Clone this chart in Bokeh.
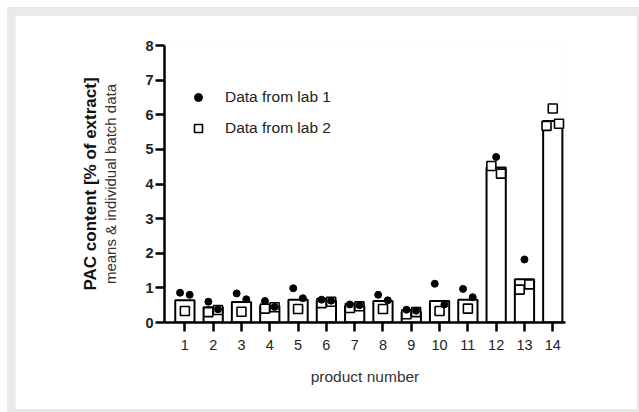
import numpy as np
from bokeh.plotting import figure
from bokeh.models import (ColumnDataSource, FixedTicker, LinearAxis, Legend, LegendItem, Range1d)
from bokeh.layouts import column
from bokeh.embed import file_html
from bokeh.resources import INLINE

# ---- data ----
products = list(range(1, 15))
product_labels = [str(i) for i in products]
means = [0.64, 0.44, 0.59, 0.48, 0.66, 0.63, 0.48, 0.62, 0.31, 0.62, 0.66, 4.48, 1.25, 5.82]
lab1 = [[0.86, 0.80], [0.60, 0.38], [0.84, 0.67], [0.62, 0.45], [0.99, 0.70],
        [0.66, 0.63], [0.52, 0.50], [0.80, 0.64], [0.37, 0.34], [1.12, 0.52],
        [0.97, 0.73], [4.78], [1.82], []]
lab2 = [[0.33], [0.30, 0.36], [0.31], [0.40, 0.44], [0.39],
        [0.56, 0.60], [0.42, 0.47], [0.39], [0.24, 0.30], [0.33],
        [0.40], [4.52, 4.30], [0.95, 1.10], [6.18, 5.68, 5.74]]
y_ticks = [0, 1, 2, 3, 4, 5, 6, 7, 8]

FONT = "Liberation Sans"


def spread(n):
    if n == 1:
        return [0.0]
    if n == 2:
        return [-0.17, 0.17]
    return [0.0, -0.22, 0.22][:n]


def flatten(groups):
    xs, ys = [], []
    for p, vals in zip(products, groups):
        for off, v in zip(spread(len(vals)), vals):
            xs.append(p + off)
            ys.append(v)
    return xs, ys


p = figure(width=622, height=394, output_backend="svg", toolbar_location=None,
           x_range=Range1d(0.28, 14.45), y_range=Range1d(0, 8),
           min_border_left=149, min_border_right=72, min_border_top=30,
           min_border_bottom=87, x_axis_type=None, y_axis_type=None)
p.grid.visible = False
p.outline_line_color = None
p.background_fill_color = "white"
p.border_fill_color = "white"

bar_src = ColumnDataSource(dict(x=products, top=means))
p.vbar(x="x", top="top", bottom=0, width=0.68, source=bar_src,
       fill_color="white", line_color="black", line_width=2)

x2, y2 = flatten(lab2)
x1, y1 = flatten(lab1)
r2 = p.scatter(x2, y2, marker="square", size=9, fill_color="white",
               line_color="black", line_width=1.6)
r1 = p.scatter(x1, y1, marker="circle", size=7, fill_color="black",
               line_color="black")

# x axis
xa = LinearAxis(ticker=FixedTicker(ticks=products), axis_label="product number")
xa.major_label_overrides = {i: s for i, s in zip(products, product_labels)}
xa.axis_line_width = 2.5
xa.major_tick_line_width = 2.5
xa.major_tick_in = 0
xa.major_tick_out = 9
xa.minor_tick_line_color = None
xa.major_label_text_font = FONT
xa.major_label_text_font_size = "14.5px"
xa.major_label_text_color = "#222222"
xa.major_label_standoff = 8
xa.axis_label_text_font = FONT
xa.axis_label_text_font_size = "15.5px"
xa.axis_label_text_font_style = "normal"
xa.axis_label_text_color = "#333333"
xa.axis_label_standoff = 15
p.add_layout(xa, "below")

# y axis (primary) carrying the regular title line
ya = LinearAxis(ticker=FixedTicker(ticks=y_ticks), axis_label="means & individual batch data")
ya.axis_line_width = 2.5
ya.major_tick_line_width = 2.5
ya.major_tick_in = 0
ya.major_tick_out = 9
ya.minor_tick_line_color = None
ya.major_label_text_font = FONT
ya.major_label_text_font_size = "14.5px"
ya.major_label_text_font_style = "bold"
ya.major_label_text_color = "#222222"
ya.major_label_standoff = 2
ya.axis_label_text_font = FONT
ya.axis_label_text_font_size = "15px"
ya.axis_label_text_font_style = "normal"
ya.axis_label_text_color = "#333333"
ya.axis_label_standoff = 23
p.add_layout(ya, "left")

# outer axis carrying the bold title line
ya2 = LinearAxis(ticker=FixedTicker(ticks=[]), axis_label="PAC content [% of extract]")
ya2.axis_line_color = None
ya2.major_tick_line_color = None
ya2.minor_tick_line_color = None
ya2.major_label_text_font_size = "0px"
ya2.major_label_standoff = 0
ya2.axis_label_standoff = 0
ya2.axis_label_text_font = FONT
ya2.axis_label_text_font_size = "17px"
ya2.axis_label_text_font_style = "bold"
ya2.axis_label_text_color = "#111111"
p.add_layout(ya2, "left")

legend = Legend(items=[LegendItem(label="Data from lab 1", renderers=[r1]),
                       LegendItem(label="Data from lab 2", renderers=[r2])],
                location=(24, 184))
legend.border_line_color = None
legend.background_fill_alpha = 0
legend.padding = 0
legend.spacing = 11
legend.glyph_width = 20
legend.glyph_height = 20
legend.label_height = 20
legend.label_standoff = 17
legend.label_text_font = FONT
legend.label_text_font_size = "15.5px"
legend.label_text_color = "#222222"
p.add_layout(legend, "center")

inner = column(p, styles={"background-color": "#e9e9e9", "padding": "8px 2px 3px 8px"})
outer = column(inner, styles={"background-color": "white", "padding": "7px 0px 0px 7px"})

with open("out.html", "w") as f:
    f.write(file_html(outer, INLINE))
